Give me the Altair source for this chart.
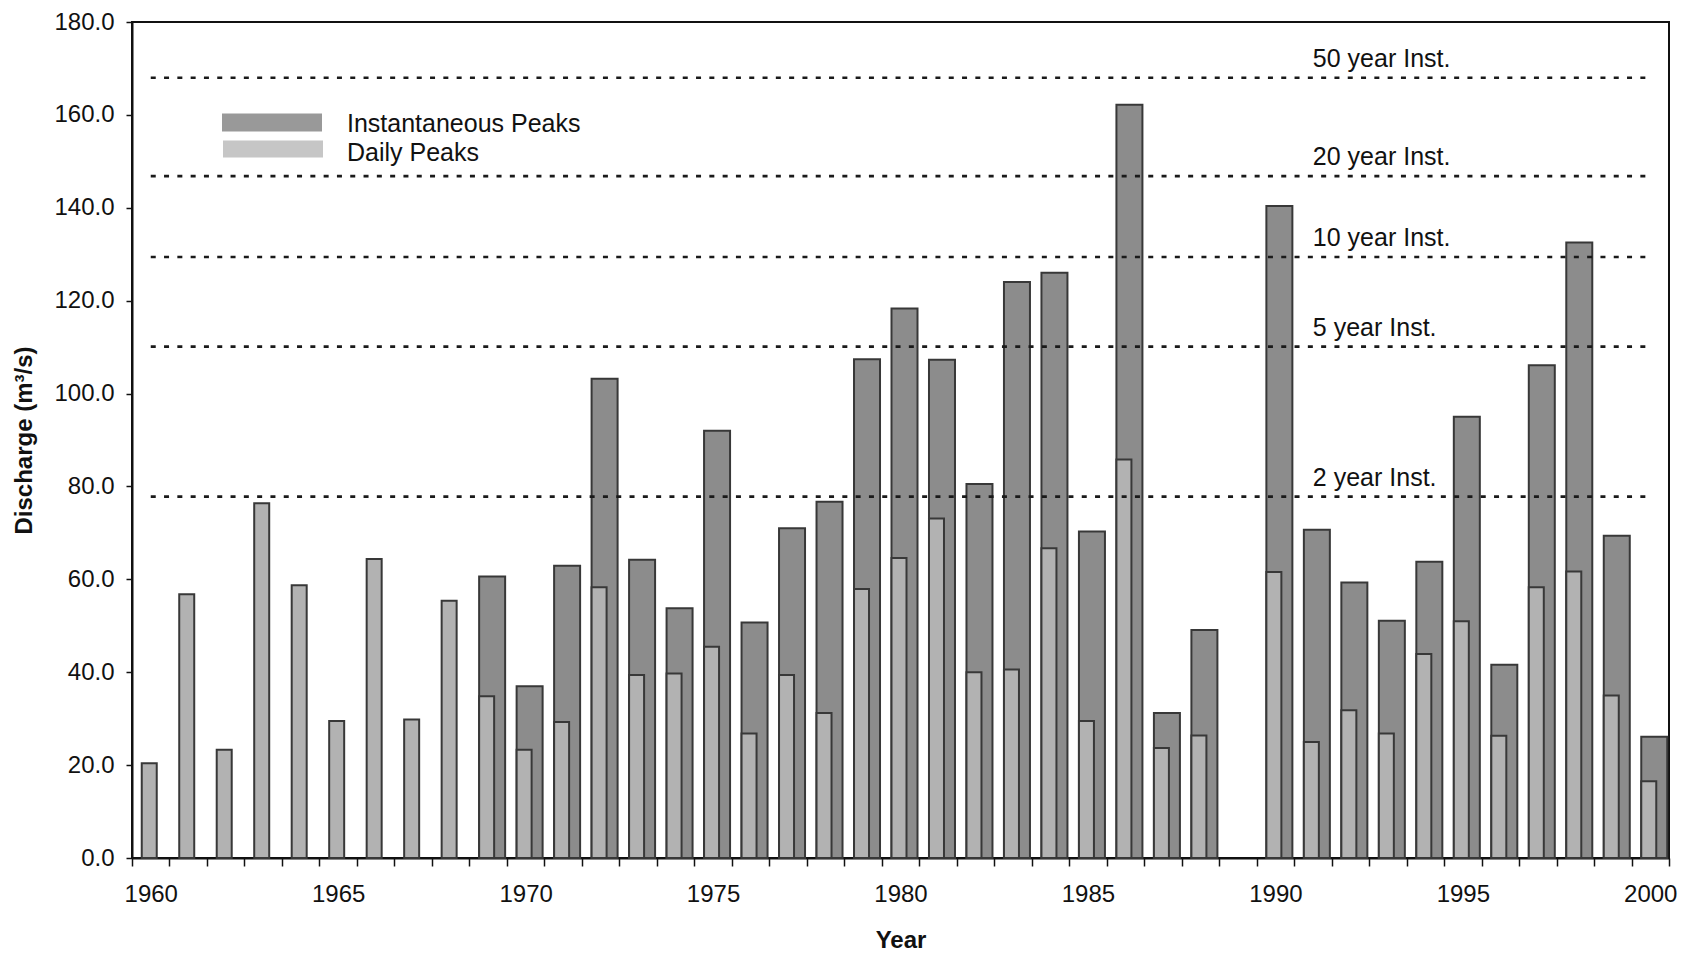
import altair as alt
import pandas as pd

# ---------------- data ----------------
years = list(range(1960, 2001))
daily_peaks = [20.4, 56.8, 23.3, 76.4, 58.7, 29.5, 64.4, 29.8, 55.4, 34.8,
               23.3, 29.3, 58.3, 39.4, 39.7, 45.5, 26.8, 39.4, 31.2, 57.9,
               64.6, 73.1, 40.0, 40.6, 66.7, 29.5, 85.8, 23.7, 26.4, None,
               61.6, 25.0, 31.8, 26.8, 43.9, 51.0, 26.3, 58.3, 61.7, 35.0,
               16.5]
inst_peaks = [None, None, None, None, None, None, None, None, None, 60.6,
              37.0, 62.9, 103.2, 64.2, 53.8, 92.0, 50.7, 71.0, 76.7, 107.4,
              118.3, 107.3, 80.5, 124.0, 126.0, 70.3, 162.2, 31.2, 49.1, None,
              140.4, 70.7, 59.3, 51.1, 63.8, 95.0, 41.6, 106.1, 132.5, 69.4,
              26.1]
return_labels = ["50 year Inst.", "20 year Inst.", "10 year Inst.", "5 year Inst.", "2 year Inst."]
return_values = [168.0, 146.8, 129.4, 110.1, 77.8]
series_names = ["Instantaneous Peaks", "Daily Peaks"]
y_ticks = [0, 20, 40, 60, 80, 100, 120, 140, 160, 180]

df = pd.DataFrame({"year": years, "inst": inst_peaks, "daily": daily_peaks})
ref = pd.DataFrame({"label": return_labels, "value": return_values})
ref["year"] = years[0]
ref["year_end"] = years[-1]
ref["year_label"] = 1991

W, H = 1537, 836
FONT = "Liberation Sans"
INST_FILL = "#8c8c8c"
DAILY_FILL = "#b2b2b2"
EDGE = "#383838"

xscale = alt.Scale(domain=years, paddingInner=0, paddingOuter=0)
yscale = alt.Scale(domain=[0, 180], nice=False)

xaxis = alt.Axis(
    title="Year", tickBand="extent",
    labelExpr="datum.value % 5 == 0 ? datum.label : ''",
    labelAngle=0, labelFontSize=24, labelPadding=16, tickSize=8, tickWidth=1.5,
    tickColor="#111", domainColor="#111", domainWidth=2,
    titleFontSize=24, titleFontWeight="bold", titleY=82, titleBaseline="middle",
    grid=False,
)
yaxis = alt.Axis(
    title="Discharge (m³/s)", values=y_ticks, format=".1f",
    labelFontSize=24, labelPadding=12, tickSize=6, tickWidth=1.5,
    tickColor="#111", domainColor="#111", domainWidth=2,
    titleFontSize=24, titleFontWeight="bold", titleX=-108, titleY=H / 2,
    titleAngle=270, titleBaseline="middle", grid=False,
)

X = alt.X("year:O", scale=xscale, axis=xaxis)
base = alt.Chart(df)

inst_bars = base.mark_bar(width=26, xOffset=4, fill=INST_FILL, stroke=EDGE,
                          strokeWidth=2).encode(
    x=X, y=alt.Y("inst:Q", scale=yscale, axis=yaxis))
daily_bars = base.mark_bar(width=15, xOffset=-1.5, fill=DAILY_FILL, stroke=EDGE,
                           strokeWidth=2).encode(
    x=X, y=alt.Y("daily:Q", scale=yscale, axis=yaxis))

rules = alt.Chart(ref).mark_rule(strokeDash=[5, 8.3], strokeWidth=2.7,
                                 color="#1a1a1a").encode(
    x=alt.X("year:O", scale=xscale, axis=xaxis, bandPosition=0.5),
    x2=alt.X2("year_end:O", bandPosition=0.5),
    y=alt.Y("value:Q", scale=yscale, axis=yaxis))

labels = alt.Chart(ref).mark_text(align="left", baseline="middle", dy=-19,
                                  fontSize=25, font=FONT, color="#111").encode(
    x=alt.X("year_label:O", scale=xscale, axis=xaxis),
    y=alt.Y("value:Q", scale=yscale, axis=yaxis),
    text="label:N")

leg_inst = pd.DataFrame({"name": [series_names[0]]})
leg_daily = pd.DataFrame({"name": [series_names[1]]})

sw1 = alt.Chart(leg_inst).mark_rect(fill="#999999").encode(
    x=alt.value(90), x2=alt.value(190), y=alt.value(91.5), y2=alt.value(109.5))
sw2 = alt.Chart(leg_daily).mark_rect(fill="#c6c6c6").encode(
    x=alt.value(91), x2=alt.value(191), y=alt.value(118.5), y2=alt.value(135.5))
tx1 = alt.Chart(leg_inst).mark_text(align="left", baseline="middle", fontSize=25,
                                    font=FONT, color="#111").encode(
    x=alt.value(215), y=alt.value(102), text="name:N")
tx2 = alt.Chart(leg_daily).mark_text(align="left", baseline="middle", fontSize=25,
                                     font=FONT, color="#111").encode(
    x=alt.value(215), y=alt.value(131), text="name:N")

chart = alt.layer(inst_bars, daily_bars, rules, labels, sw1, sw2, tx1, tx2).properties(
    width=W, height=H,
    autosize=alt.AutoSizeParams(type="none"),
    padding={"left": 124, "top": 14, "right": 19, "bottom": 96},
    background="white",
).configure_view(stroke="#111", strokeWidth=2).configure_axis(
    labelFont=FONT, titleFont=FONT, labelColor="#111", titleColor="#111")

chart.save("out.html", embed_options={"renderer": "svg", "actions": False})
